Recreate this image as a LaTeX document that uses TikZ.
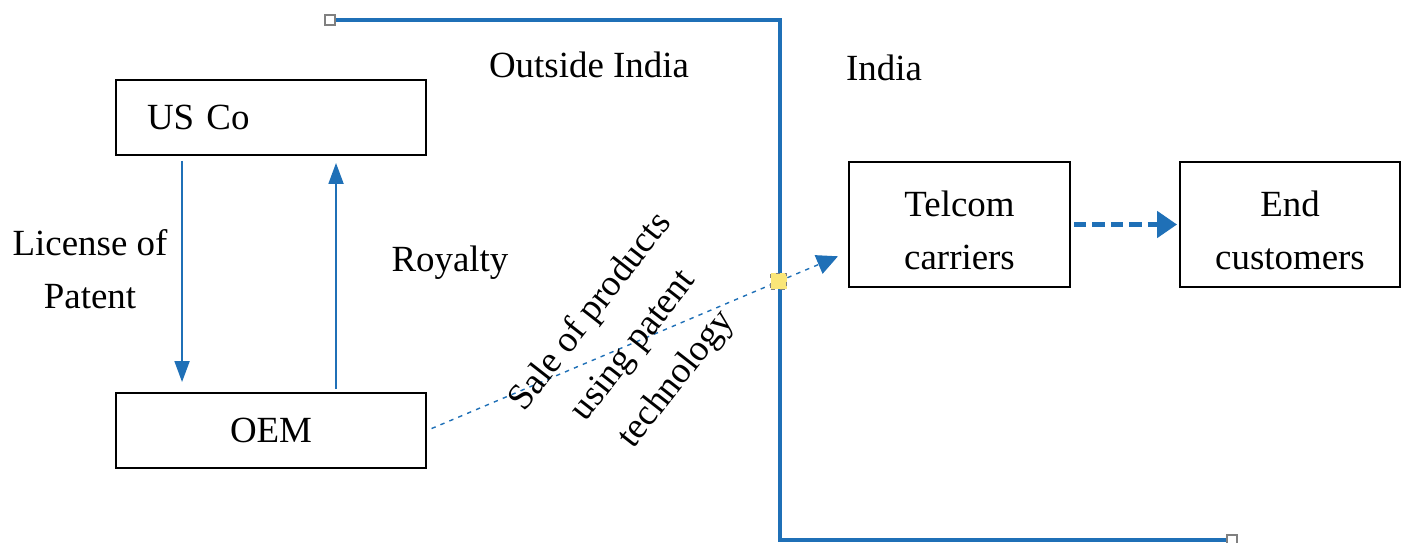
\documentclass[tikz,border=0pt]{standalone}
\usepackage{fontspec}
\setmainfont{Liberation Serif}
\usepackage{tikz}
\usetikzlibrary{arrows.meta,positioning}
\definecolor{lineblue}{RGB}{31,112,183}
\definecolor{markyellow}{RGB}{250,230,120}

\begin{document}
\begin{tikzpicture}[x=0.02cm, y=-0.02cm,
		every node/.style={font=\fontsize{21}{30}\selectfont},
		box/.style={draw, line width=1.1pt, minimum height=1.5cm, inner sep=0pt},
		flow/.style={draw=lineblue, line width=1.1pt, -{Triangle[length=0.42cm, width=0.3cm]}},
		sale/.style={draw=lineblue, line width=0.8pt, dash pattern=on 2.5pt off 3pt, -{Triangle[length=0.42cm, width=0.4cm]}},
		pass/.style={draw=lineblue, line width=2.8pt, dash pattern=on 7pt off 3.5pt, -{Triangle[length=0.4cm, width=0.52cm]}},
		border/.style={draw=lineblue, line width=2.8pt},
		handle/.style={draw=gray, fill=white, line width=0.8pt, minimum size=0.2cm, inner sep=0pt},
		marker/.style={draw=gray, fill=markyellow, line width=0.8pt, minimum size=0.32cm, inner sep=0pt}]
			\useasboundingbox (0, 0) rectangle (1407, 542);

			% border between the two countries
			\coordinate (bstart) at (330, 20);
			\coordinate (bcorner1) at (780, 20);
			\coordinate (bcorner2) at (780, 540);
			\coordinate (bend) at (1232, 540);
			\draw [border] (bstart) -- (bcorner1) -- (bcorner2) -- (bend);
			\node [handle] at (bstart) {};
			\node [handle] at (bend) {};

			\node (outside) at (589, 65) {Outside India};
			\node (india) at (884, 68) {India};

			\node [box, minimum width=6.2cm, text width=4.96cm, inner xsep=0.62cm, align=left] (usco) at (271, 117.5) {US Co};
			\node [box, minimum width=6.2cm] (oem) at (271, 430.5) {OEM};
			\node [box, minimum width=4.42cm, minimum height=2.5cm, align=center] (telcom) at (959.5, 224.5) {\strut Telcom\\carriers};
			\node [box, minimum width=4.4cm, minimum height=2.5cm, align=center] (endcust) at (1290, 224.5) {\strut End\\customers};

			\node [align=center] (license) at (90, 269) {License of\\Patent};
			\node (royalty) at (450, 263) {Royalty};

			\draw [flow, shorten <=0.1cm, shorten >=0.2cm] ([xshift=1.34cm]usco.south west) to ([xshift=1.34cm]oem.north west);
			\draw [flow, shorten <=0.06cm, shorten >=0.14cm] ([xshift=4.42cm]oem.north west) to ([xshift=4.42cm]usco.south west);
			\draw [sale, shorten <=0.1cm, shorten >=0.22cm] (oem.east) to node [marker, pos=0.835] (cross) {} ([yshift=-0.55cm]telcom.west);
			\draw [pass, shorten <=0.06cm, shorten >=0.04cm] (telcom.east) to (endcust.west);

			\node [align=center, rotate=52, font=\fontsize{21}{31}\selectfont] (salelabel) at (634, 346) {Sale of products\\using patent\\technology};
	\end{tikzpicture}
\end{document}
